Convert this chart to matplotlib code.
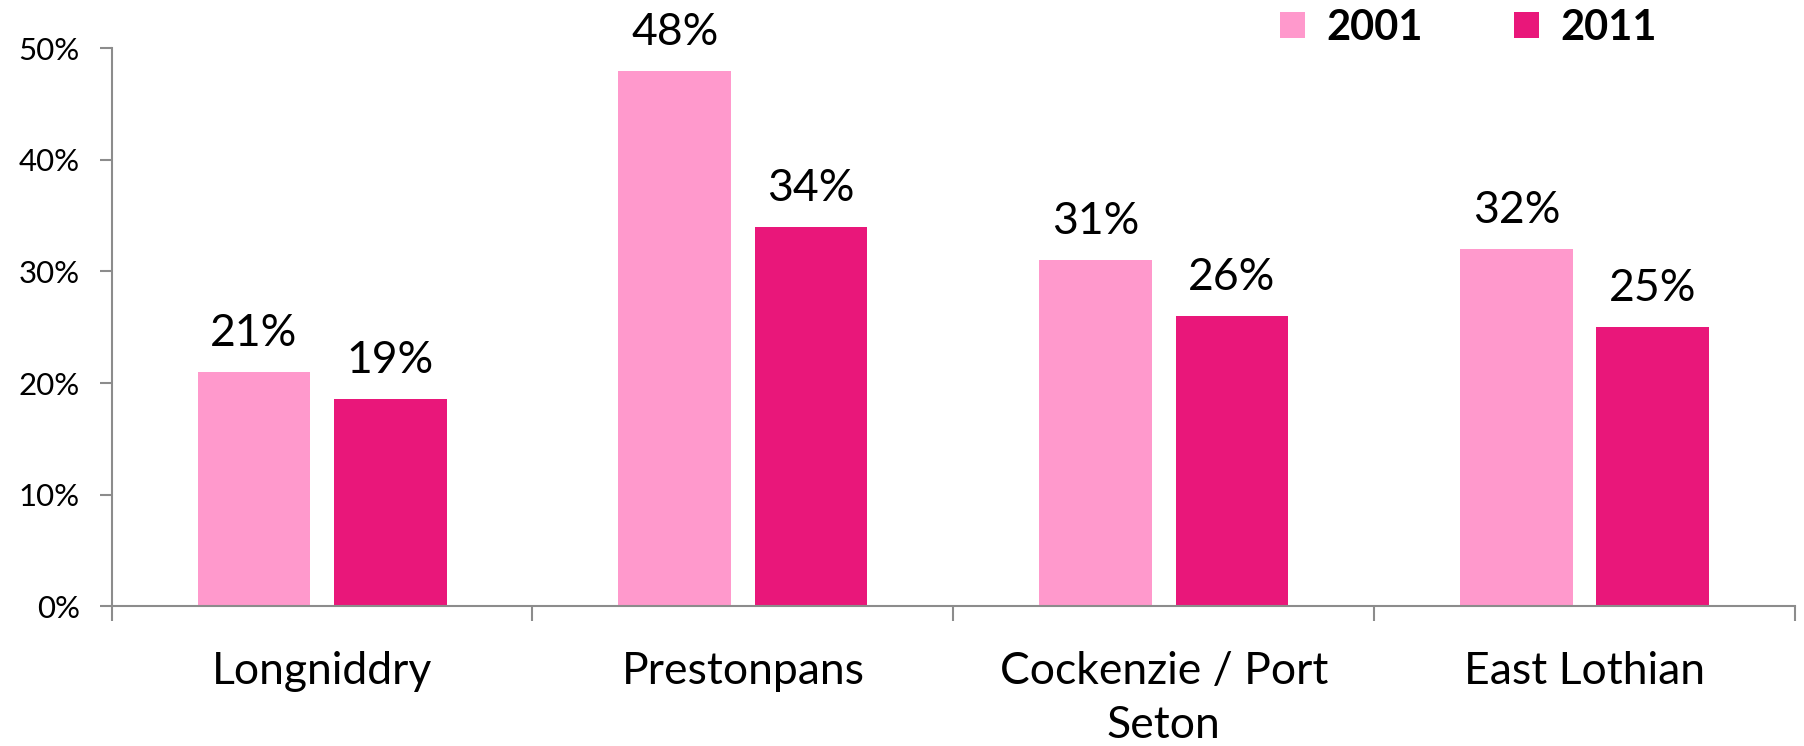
import matplotlib.pyplot as plt
import numpy as np

plt.rcParams['font.family'] = ['Lato', 'DejaVu Sans']

areas = ["Longniddry", "Prestonpans", "Cockenzie / Port\nSeton", "East Lothian"]
v2001 = [21, 48, 31, 32]
v2011 = [18.6, 34, 26, 25]
lbl2001 = ["21%", "48%", "31%", "32%"]
lbl2011 = ["19%", "34%", "26%", "25%"]

c2001 = "#FF99CC"
c2011 = "#E9177A"
grey = "#8C8C8C"

fig = plt.figure(figsize=(18.04, 7.46), dpi=100)
ax = fig.add_axes([0.0619, 0.1873, 0.9331, 0.748])

x = np.arange(len(areas))
w = 0.268
off = 0.162
b1 = ax.bar(x - off, v2001, w, color=c2001, label="2001")
b2 = ax.bar(x + off, v2011, w, color=c2011, label="2011")

for bars, labels in [(b1, lbl2001), (b2, lbl2011)]:
    for b, t in zip(bars, labels):
        ax.annotate(t, (b.get_x() + b.get_width() / 2, b.get_height()),
                    xytext=(0, 13), textcoords="offset points",
                    ha="center", va="bottom", fontsize=32)

ax.set_xlim(-0.5, len(areas) - 0.5)
ax.set_ylim(0, 50)
ax.set_yticks(range(0, 51, 10))
ax.set_yticklabels([f"{v}%" for v in range(0, 51, 10)], fontsize=22.5)
ax.set_xticks(x)
ax.set_xticklabels(areas, fontsize=32, linespacing=1.4)
ax.set_xticks(np.arange(-0.5, len(areas), 1), minor=True)
ax.tick_params(axis="x", which="major", length=0, pad=32)
ax.tick_params(axis="x", which="minor", length=11, width=1.5, color=grey)
ax.tick_params(axis="y", length=9, width=1.5, color=grey, pad=14)

for s in ["top", "right"]:
    ax.spines[s].set_visible(False)
for s in ["left", "bottom"]:
    ax.spines[s].set_color(grey)
    ax.spines[s].set_linewidth(1.5)
ax.spines["left"].set_bounds(0, 50)

leg = fig.legend(loc="center", bbox_to_anchor=(0.814, 0.963), ncol=2, frameon=False,
                 prop={"size": 30, "weight": "bold"}, handlelength=0.6, handleheight=0.6,
                 handletextpad=0.5, columnspacing=2.2)

fig.savefig("out.png", dpi=100)
